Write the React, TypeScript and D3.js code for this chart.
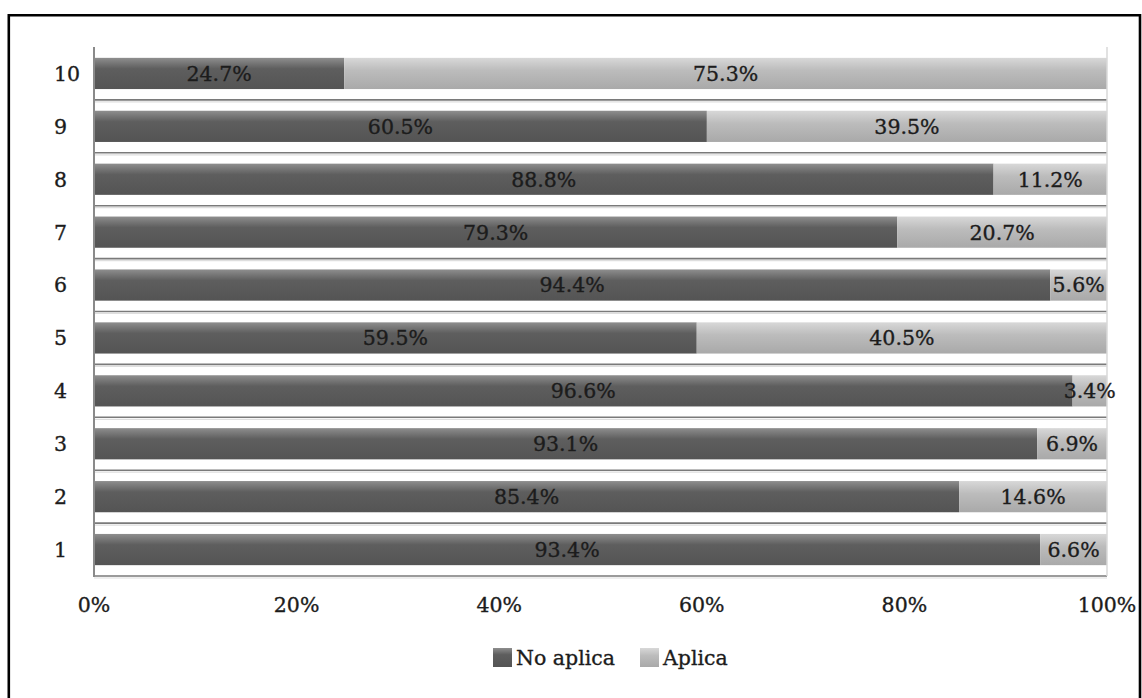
import React from 'react';
import * as d3 from 'd3';

const categories = ['1', '2', '3', '4', '5', '6', '7', '8', '9', '10'];
const noAplica = [93.4, 85.4, 93.1, 96.6, 59.5, 94.4, 79.3, 88.8, 60.5, 24.7];
const aplica = [6.6, 14.6, 6.9, 3.4, 40.5, 5.6, 20.7, 11.2, 39.5, 75.3];
const xTicks = [0, 20, 40, 60, 80, 100];
const seriesNames = ['No aplica', 'Aplica'];

const W = 1142;
const H = 698;
const FONT = '"DejaVu Serif", serif';
const FS = 20.5;

// slight stroke so the thin serif reads as heavy as the reference
const textStyle = { fontFamily: FONT, fontSize: FS, fill: '#1c1c1c', stroke: '#1c1c1c', strokeWidth: 0.35 };

export default function App() {
    const plot = { left: 94, right: 1107, top: 47, bottom: 576 };

    const x = d3.scaleLinear().domain([0, 100]).range([plot.left, plot.right]);
    const y = d3.scaleBand<string>()
        .domain([...categories].reverse())
        .range([plot.top, plot.bottom])
        .paddingInner(0.41)
        .paddingOuter(0.205);

    const step = y.step();
    const boundaries = d3.range(1, categories.length + 1).map(i => plot.top + i * step);

    const rows = categories.map((c, i) => ({ cat: c, a: noAplica[i], b: aplica[i] }));
    const fmt = d3.format('.1f');

    return (
        <svg width={W} height={H} style={{ position: 'absolute', left: 0, top: 0 }}>
            <defs>
                <linearGradient id="gDark" x1="0" y1="0" x2="0" y2="1">
                    <stop offset="0%" stopColor="#8e8e8e" />
                    <stop offset="35%" stopColor="#5e5e5e" />
                    <stop offset="100%" stopColor="#545454" />
                </linearGradient>
                <linearGradient id="gLight" x1="0" y1="0" x2="0" y2="1">
                    <stop offset="0%" stopColor="#d8d8d8" />
                    <stop offset="40%" stopColor="#bcbcbc" />
                    <stop offset="100%" stopColor="#a9a9a9" />
                </linearGradient>
            </defs>
            <rect x={0} y={0} width={W} height={H} fill="#ffffff" />

            {/* outer frame */}
            <path d={`M8.8,${H} V15.3 H1140 V${H}`} fill="none" stroke="#000" strokeWidth={2.6} />

            {/* category gridlines */}
            {boundaries.map((b, i) => (
                <g key={'gl' + i}>
                    <line x1={plot.left} x2={plot.right} y1={b} y2={b} stroke="#7a7a7a" strokeWidth={1.6} />
                    <line x1={plot.left} x2={plot.right} y1={b + 2} y2={b + 2} stroke="#dedede" strokeWidth={1.2} />
                </g>
            ))}

            {/* bars */}
            {rows.map(r => {
                const yy = y(r.cat) as number;
                const h = y.bandwidth();
                return (
                    <g key={'bar' + r.cat}>
                        <rect x={x(0)} y={yy} width={x(r.a) - x(0)} height={h} fill="url(#gDark)" />
                        <rect x={x(r.a)} y={yy} width={x(100) - x(r.a)} height={h} fill="url(#gLight)" />
                    </g>
                );
            })}

            {/* axes */}
            <line x1={plot.left} x2={plot.left} y1={plot.top} y2={plot.bottom + 1} stroke="#8a8a8a" strokeWidth={2} />
            <line x1={plot.right} x2={plot.right} y1={plot.top} y2={plot.bottom} stroke="#d8d8d8" strokeWidth={1.5} />

            {/* bar labels */}
            {rows.map(r => {
                const cy = (y(r.cat) as number) + y.bandwidth() / 2;
                return (
                    <g key={'lab' + r.cat} style={textStyle} textAnchor="middle">
                        <text x={(x(0) + x(r.a)) / 2} y={cy} dy="0.36em">{fmt(r.a)}%</text>
                        <text x={(x(r.a) + x(100)) / 2} y={cy} dy="0.36em">{fmt(r.b)}%</text>
                    </g>
                );
            })}

            {/* y labels */}
            {categories.map(c => (
                <text key={'y' + c} x={54} y={(y(c) as number) + y.bandwidth() / 2} dy="0.36em"
                    style={textStyle}>{c}</text>
            ))}

            {/* x tick labels */}
            {xTicks.map(t => (
                <text key={'x' + t} x={x(t)} y={605} dy="0.36em" textAnchor="middle"
                    style={textStyle}>{t}%</text>
            ))}

            {/* legend */}
            {seriesNames.map((s, i) => {
                const lx = i === 0 ? 493 : 640;
                return (
                    <g key={'leg' + s}>
                        <rect x={lx} y={648} width={19} height={19} fill={i === 0 ? 'url(#gDark)' : 'url(#gLight)'} />
                        <text x={lx + 23} y={658} dy="0.36em" style={textStyle}>{s}</text>
                    </g>
                );
            })}
        </svg>
    );
}
